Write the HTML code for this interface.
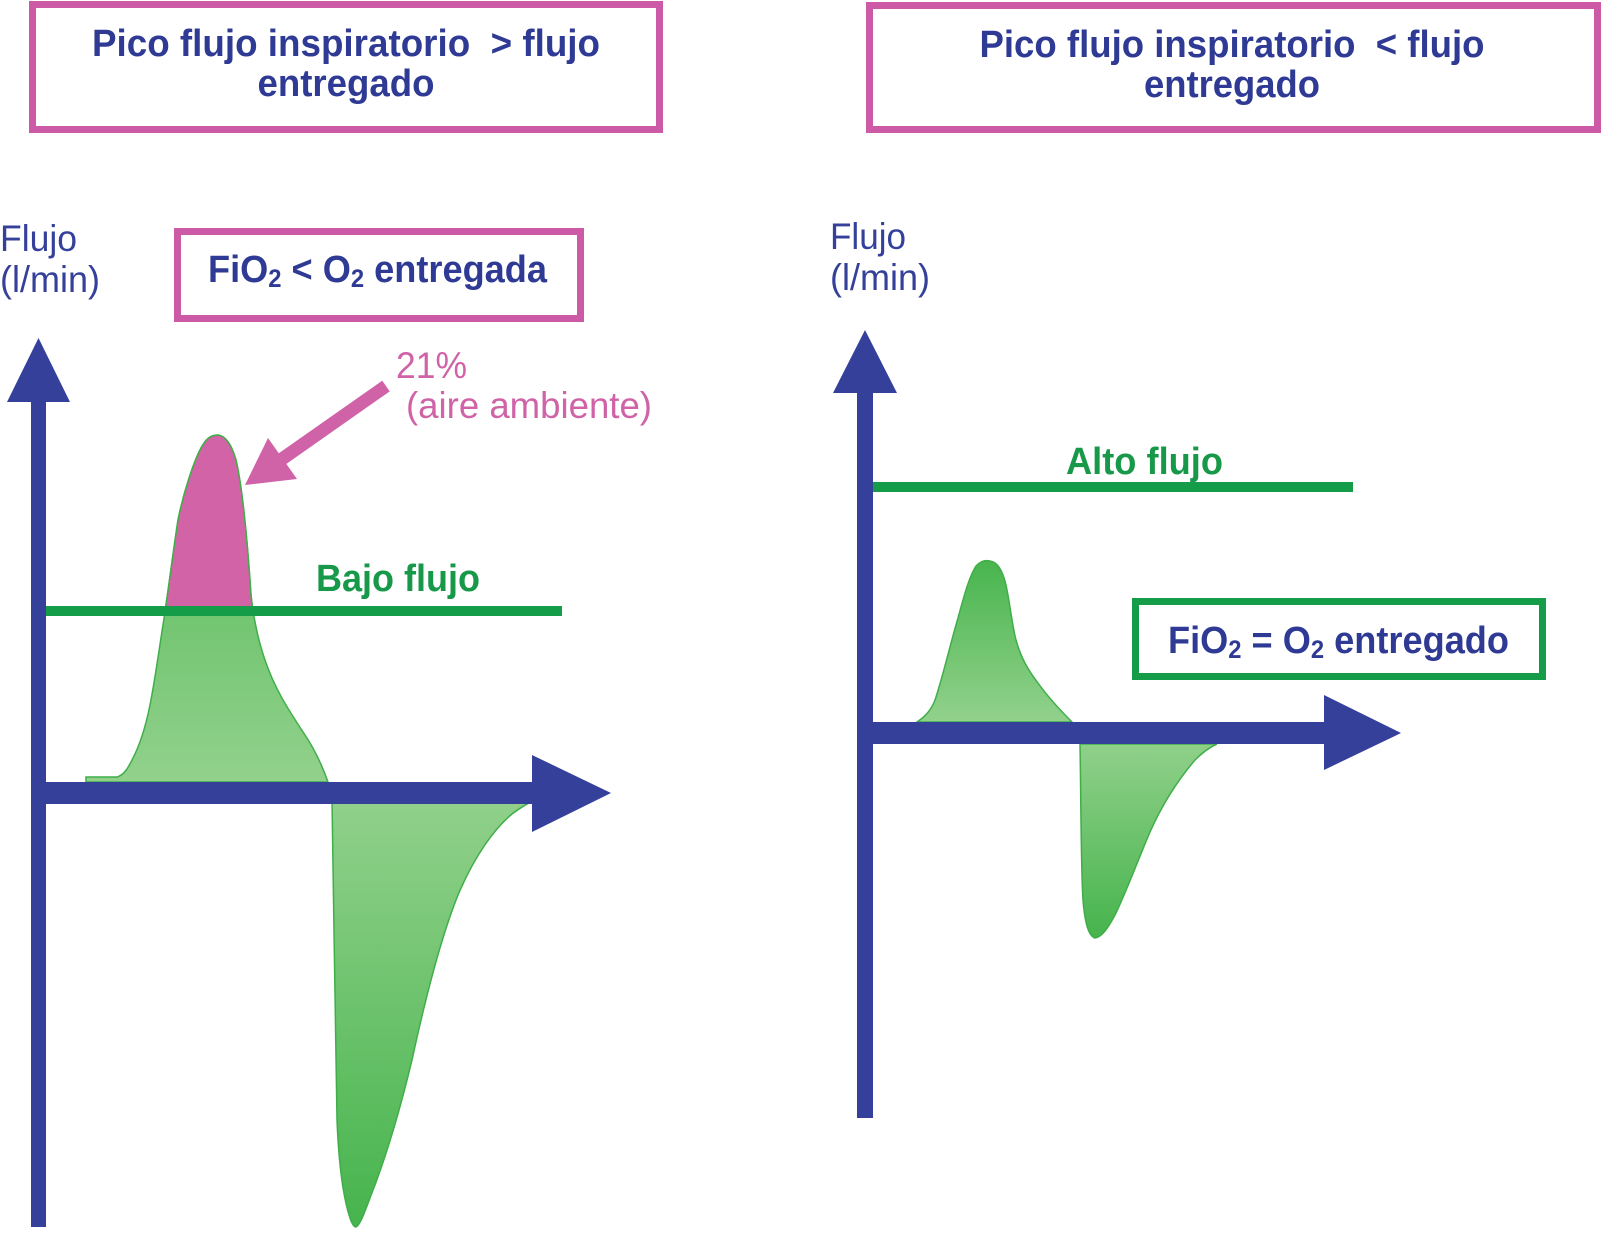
<!DOCTYPE html>
<html>
<head>
<meta charset="utf-8">
<style>
html,body{margin:0;padding:0;background:#fff;}
svg{display:block;}
text{font-family:"Liberation Sans",Arial,sans-serif;}
</style>
</head>
<body>
<svg width="1604" height="1235" viewBox="0 0 1604 1235" xmlns="http://www.w3.org/2000/svg">
<defs>
  <linearGradient id="gPosL" gradientUnits="userSpaceOnUse" x1="0" y1="435" x2="0" y2="782">
    <stop offset="0" stop-color="#4fb854"/>
    <stop offset="1" stop-color="#92d18c"/>
  </linearGradient>
  <linearGradient id="gNegL" gradientUnits="userSpaceOnUse" x1="0" y1="804" x2="0" y2="1227">
    <stop offset="0" stop-color="#90d08a"/>
    <stop offset="1" stop-color="#46b44d"/>
  </linearGradient>
  <linearGradient id="gPosR" gradientUnits="userSpaceOnUse" x1="0" y1="561" x2="0" y2="722">
    <stop offset="0" stop-color="#48b54e"/>
    <stop offset="1" stop-color="#92d18c"/>
  </linearGradient>
  <linearGradient id="gNegR" gradientUnits="userSpaceOnUse" x1="0" y1="744" x2="0" y2="938">
    <stop offset="0" stop-color="#90d08a"/>
    <stop offset="1" stop-color="#46b44d"/>
  </linearGradient>
  <clipPath id="abovLine">
    <rect x="0" y="0" width="700" height="611"/>
  </clipPath>
</defs>

<!-- Top title boxes -->
<rect x="32.5" y="4.5" width="627" height="125" fill="#fff" stroke="#cc5aa6" stroke-width="7"/>
<text x="346" y="56" text-anchor="middle" font-size="38" font-weight="bold" fill="#2e3a94" textLength="508" lengthAdjust="spacingAndGlyphs" xml:space="preserve">Pico flujo inspiratorio  &gt; flujo</text>
<text x="346" y="96" text-anchor="middle" font-size="38" font-weight="bold" fill="#2e3a94" textLength="177" lengthAdjust="spacingAndGlyphs">entregado</text>

<rect x="869.5" y="5.5" width="728" height="124" fill="#fff" stroke="#cc5aa6" stroke-width="7"/>
<text x="1232" y="57" text-anchor="middle" font-size="38" font-weight="bold" fill="#2e3a94" textLength="505" lengthAdjust="spacingAndGlyphs" xml:space="preserve">Pico flujo inspiratorio  &lt; flujo</text>
<text x="1232" y="97" text-anchor="middle" font-size="38" font-weight="bold" fill="#2e3a94" textLength="176" lengthAdjust="spacingAndGlyphs">entregado</text>

<!-- Axis labels -->
<text x="0" y="251" font-size="37" fill="#34409a" textLength="77" lengthAdjust="spacingAndGlyphs">Flujo</text>
<text x="0" y="292" font-size="37" fill="#34409a" textLength="100" lengthAdjust="spacingAndGlyphs">(l/min)</text>
<text x="830" y="249" font-size="37" fill="#34409a" textLength="76" lengthAdjust="spacingAndGlyphs">Flujo</text>
<text x="830" y="290" font-size="37" fill="#34409a" textLength="100" lengthAdjust="spacingAndGlyphs">(l/min)</text>

<!-- FiO2 < O2 box -->
<rect x="177.5" y="231.5" width="403" height="87" fill="#fff" stroke="#cc5aa6" stroke-width="7"/>
<text x="208" y="282" font-size="38" font-weight="bold" fill="#2e3a94" textLength="339" lengthAdjust="spacingAndGlyphs">FiO<tspan font-size="25" dy="5">2</tspan><tspan dy="-5"> &lt; O</tspan><tspan font-size="25" dy="5">2</tspan><tspan dy="-5"> entregada</tspan></text>

<!-- 21% label -->
<text x="396" y="378" font-size="37" fill="#d063a8" textLength="71" lengthAdjust="spacingAndGlyphs">21%</text>
<text x="406" y="418" font-size="37" fill="#d063a8" textLength="246" lengthAdjust="spacingAndGlyphs">(aire ambiente)</text>

<!-- LEFT waveform positive lobe -->
<path d="M86,782 L86,777 L117,777 C124,775 128,768 132,760 C140,745 146,725 150,705 C155,680 159,650 163,625 C167,600 172,560 178,520 C184,490 194,462 200,450 C206,438 211,435 218,435 C226,436 232,446 236,460 C243,490 248,550 251,595 C253,615 258,640 265,660 C275,690 290,712 305,735 C315,750 322,765 328,782 Z" fill="url(#gPosL)" stroke="#3fae49" stroke-width="1.5"/>
<path d="M86,782 L86,777 L117,777 C124,775 128,768 132,760 C140,745 146,725 150,705 C155,680 159,650 163,625 C167,600 172,560 178,520 C184,490 194,462 200,450 C206,438 211,435 218,435 C226,436 232,446 236,460 C243,490 248,550 251,595 C253,615 258,640 265,660 C275,690 290,712 305,735 C315,750 322,765 328,782 Z" fill="#d263a7" stroke="#3fae49" stroke-width="1.5" clip-path="url(#abovLine)"/>

<!-- LEFT negative lobe -->
<path d="M332,800 C334,900 335,1050 337,1120 C339,1170 344,1200 350,1218 C352,1224 354,1227 356,1227 C360,1225 364,1214 370,1198 C385,1160 400,1110 412,1060 C425,1000 440,940 458,895 C475,855 495,828 512,814 C520,808 528,803 535,800 Z" fill="url(#gNegL)" stroke="#3fae49" stroke-width="1.5"/>

<!-- Bajo flujo line -->
<rect x="45" y="606" width="517" height="10" fill="#149c48"/>
<text x="316" y="591" font-size="38" font-weight="bold" fill="#18994a" textLength="164" lengthAdjust="spacingAndGlyphs">Bajo flujo</text>

<!-- Left axes -->
<rect x="31" y="398" width="15" height="829" fill="#34409a"/>
<polygon points="38.5,338 70,402 7,402" fill="#34409a"/>
<rect x="31" y="782" width="503" height="22" fill="#34409a"/>
<polygon points="532,755 611,793 532,832" fill="#34409a"/>

<!-- Pink arrow -->
<line x1="282" y1="459" x2="386" y2="386" stroke="#d063a8" stroke-width="13"/>
<polygon points="245,485 268,438 297,479" fill="#d063a8"/>

<!-- RIGHT waveform positive lobe -->
<path d="M917,722 C926,716 931,710 935,700 C942,680 950,645 958,618 C965,592 970,575 976,566 C981,561 985,560 990,561 C998,562 1003,572 1006,585 C1010,603 1012,625 1016,640 C1021,658 1028,670 1038,683 C1048,697 1060,710 1072,722 Z" fill="url(#gPosR)" stroke="#3fae49" stroke-width="1.5"/>
<!-- RIGHT negative lobe -->
<path d="M1080,744 C1081,800 1081,870 1083,900 C1085,925 1089,936 1095,938 C1102,937 1108,928 1115,915 C1125,895 1138,860 1150,832 C1162,805 1178,780 1195,760 C1203,752 1210,747 1217,744 Z" fill="url(#gNegR)" stroke="#3fae49" stroke-width="1.5"/>

<!-- Alto flujo line -->
<rect x="872" y="482" width="481" height="10" fill="#149c48"/>
<text x="1066" y="474" font-size="38" font-weight="bold" fill="#18994a" textLength="157" lengthAdjust="spacingAndGlyphs">Alto flujo</text>

<!-- Right axes -->
<rect x="857" y="390" width="16" height="728" fill="#34409a"/>
<polygon points="865,330 897,393 833,393" fill="#34409a"/>
<rect x="857" y="722" width="469" height="22" fill="#34409a"/>
<polygon points="1324,695 1401,733 1324,770" fill="#34409a"/>

<!-- FiO2 = O2 box -->
<rect x="1135.5" y="601.5" width="407" height="75" fill="#fff" stroke="#149c48" stroke-width="7"/>
<text x="1168" y="653" font-size="38" font-weight="bold" fill="#2e3a94" textLength="341" lengthAdjust="spacingAndGlyphs">FiO<tspan font-size="25" dy="5">2</tspan><tspan dy="-5"> = O</tspan><tspan font-size="25" dy="5">2</tspan><tspan dy="-5"> entregado</tspan></text>
</svg>
</body>
</html>
